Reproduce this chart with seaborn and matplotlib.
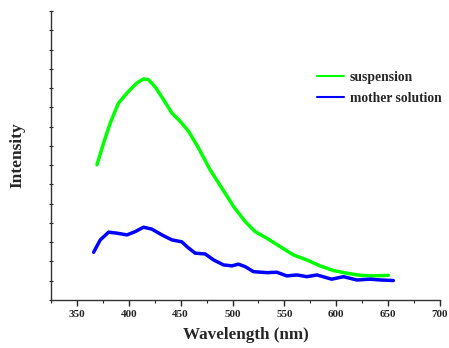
import matplotlib
matplotlib.use("Agg")
import matplotlib.pyplot as plt
import seaborn as sns
import pandas as pd
import numpy as np

green_x = [369.3, 375.7, 382.1, 390.1, 399.8, 407.8, 414.2, 419.0, 425.5, 433.5, 441.5, 449.5,
           457.6, 467.2, 478.4, 489.7, 500.9, 512.2, 521.8, 533.0, 545.9, 558.7, 571.6, 584.4,
           597.2, 610.1, 622.9, 635.8, 650.2]
green_y = [7.02, 8.15, 9.19, 10.23, 10.84, 11.27, 11.48, 11.44, 11.06, 10.40, 9.71, 9.28,
           8.76, 7.89, 6.76, 5.81, 4.86, 4.07, 3.55, 3.21, 2.77, 2.34, 2.08, 1.77,
           1.53, 1.39, 1.28, 1.25, 1.28]

blue_x = [366.1, 372.5, 380.5, 388.5, 398.2, 406.2, 414.2, 422.2, 431.9, 441.5, 451.1, 456.0,
          464.0, 473.6, 481.7, 491.3, 499.3, 505.7, 512.2, 520.2, 533.0, 542.7, 552.3, 562.0,
          571.6, 581.3, 595.6, 606.9, 619.7, 632.6, 642.2, 655.0]
blue_y = [2.48, 3.12, 3.52, 3.47, 3.38, 3.55, 3.78, 3.68, 3.38, 3.12, 3.02, 2.77,
          2.43, 2.39, 2.08, 1.82, 1.77, 1.86, 1.73, 1.47, 1.42, 1.44, 1.25, 1.30,
          1.21, 1.30, 1.08, 1.21, 1.04, 1.08, 1.04, 1.01]

x_ticks = [350, 400, 450, 500, 550, 600, 650, 700]

df = pd.concat([
    pd.DataFrame({"Wavelength": green_x, "Intensity": green_y, "series": "suspension"}),
    pd.DataFrame({"Wavelength": blue_x, "Intensity": blue_y, "series": "mother solution"}),
])

sns.set_style("white")
plt.rcParams["font.family"] = ["Liberation Serif", "DejaVu Serif"]
plt.rcParams["font.weight"] = "bold"

fig = plt.figure(figsize=(4.49, 3.48), dpi=100)
ax = fig.add_axes([0.1136, 0.138, 0.8664, 0.830])

sns.lineplot(data=df, x="Wavelength", y="Intensity", hue="series",
             palette={"suspension": "#00ff00", "mother solution": "#0000ff"},
             linewidth=2.5, ax=ax, sort=True, estimator=None)
for ln in ax.lines:
    ln.set_solid_joinstyle("round")
    ln.set_solid_capstyle("round")

ax.set_xlim(325, 700)
ax.set_ylim(0, 15)
ax.set_xticks(x_ticks)
ax.set_xticks(np.arange(325, 701, 25), minor=True)
ax.set_xticklabels([str(t) for t in x_ticks], fontsize=8, fontweight="bold")
ax.set_yticks(np.arange(0, 16, 1))
ax.set_yticklabels([])
ax.tick_params(axis="x", which="major", direction="out", length=4, width=1, pad=3, bottom=True)
ax.tick_params(axis="x", which="minor", direction="out", length=2, width=0.8, bottom=True)
ax.tick_params(axis="y", which="major", direction="inout", length=2.5, width=0.8, left=True)

for s in ["top", "right"]:
    ax.spines[s].set_visible(False)
for s in ["left", "bottom"]:
    ax.spines[s].set_color("#333333")
    ax.spines[s].set_linewidth(1.0)

ax.set_xlabel("Wavelength (nm)", fontsize=12.3, fontweight="bold", labelpad=6)
ax.set_ylabel("Intensity", fontsize=12.5, fontweight="bold", labelpad=14)

leg = ax.legend(loc="upper left", bbox_to_anchor=(0.652, 0.835), frameon=False,
                prop={"family": ["Liberation Serif"], "weight": "bold", "size": 9.8},
                handlelength=2.0, handletextpad=0.4, labelspacing=0.6)
for h in leg.legend_handles:
    h.set_linewidth(1.5)

fig.savefig("out.png", dpi=100)
